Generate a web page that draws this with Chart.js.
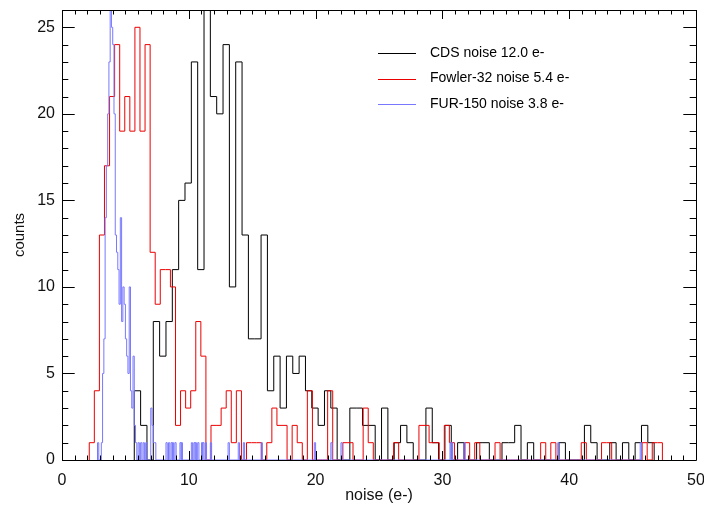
<!DOCTYPE html>
<html><head><meta charset="utf-8">
<script src="https://cdn.jsdelivr.net/npm/chart.js@4.4.1/dist/chart.umd.min.js"></script>
<style>html,body{margin:0;padding:0;background:#fff;}#wrap{width:704px;height:506px;position:relative;}</style>
</head><body><div id="wrap"><canvas id="c" width="704" height="506"></canvas></div>
<script>
// ---- data ----
const xTickLabels = [0, 10, 20, 30, 40, 50];
const yTickLabels = [0, 5, 10, 15, 20, 25];
const seriesNames = ['CDS noise 12.0 e-', 'Fowler-32 noise 5.4 e-', 'FUR-150 noise 3.8 e-'];

// CDS histogram: bins of 0.5 e- starting at 5.7
const cdsStart = 5.7, cdsBin = 0.5;
const cdsCounts = [4,2,0,8,6,8,11,15,16,23,11,26,21,20,24,10,23,13,7,7,13,4,6,3,6,5,6,4,3,2,4,3,0,0,3,3,2,2,0,3,0,1,2,1,0,0,3,1,0,2,0,1,0,0,1,1,0,0,1,1,2,0,1,0,0,0,0,1,0,0,0,2,1,0,0,1,0,1,0,1,2,1];

// Fowler-32 histogram: bins of 0.4 e- starting at 2.15
const fowlerStart = 2.15, fowlerBin = 0.4;
const fowlerCounts = [1,4,13,17,21,24,19,21,19,25,19,24,12,9,11,11,10,2,4,3,4,8,6,0,2,2,3,4,1,4,0,1,1,1,0,1,3,2,2,0,2,1,0,4,0,0,0,4,0,0,1,1,0,0,3,1,0,0,0,0,1,0,0,0,0,2,2,1,1,0,2,1,0,0,1,0,1,0,0,0,1,0,0,0,0,0,0,0,0,1,0,1,0,0,0,0,0,1,0,0,0,1,1,0,0,0,0,0,0,1,0,1,1];

// FUR-150 histogram: bins of 0.1 e-, dense core starting at 2.8, then sparse single bins
const furStart = 2.8, furBin = 0.1;
const furCoreCounts = [1,0,0,1,5,7,14,17,20,23,26,25,24,20,13,12,11,9,14,8,10,9,7,6,5,10,4,3,6,2,1,0,1,0,1,0,1,0,1,0,0,0,3,2,1,1];
const furTailBins = [8.2,8.4,8.6,8.7,8.9,9.3,9.4,10.2,10.4,10.5,10.7,11.0,11.1,11.3,11.7,13.1,13.9,14.3,15.7,19.9,21.2,22.0,30.6,30.7,31.7,39.1,45.6];
const furTailCounts = [1,1,1,1,1,1,1,1,1,1,1,1,1,1,1,1,1,1,1,1,1,1,1,1,1,1,1];

// ---- build step outlines ----
function histSteps(start, w, counts) {
  const pts = [{x: start, y: 0}];
  counts.forEach((c, i) => pts.push({x: +(start + i * w).toFixed(3), y: c}));
  pts.push({x: +(start + counts.length * w).toFixed(3), y: 0});
  return pts;
}
function sparseSteps(pts, bins, counts, w) {
  bins.forEach((b, i) => {
    pts.push({x: b, y: counts[i]});
    pts.push({x: +(b + w).toFixed(3), y: 0});
  });
  return pts;
}
const cdsPts = histSteps(cdsStart, cdsBin, cdsCounts);
const fowlerPts = histSteps(fowlerStart, fowlerBin, fowlerCounts);
const furPts = sparseSteps(histSteps(furStart, furBin, furCoreCounts), furTailBins, furTailCounts, furBin);

const colors = ['#000000', 'rgb(235,0,0)', 'rgb(120,120,255)'];

// frame, inward ticks and legend (IDL style)
const idlFrame = {
  id: 'idlFrame',
  afterDraw(chart) {
    const {ctx, chartArea: a, scales: {x, y}} = chart;
    ctx.save();
    ctx.strokeStyle = '#000';
    ctx.lineWidth = 1;
    ctx.beginPath();
    ctx.rect(Math.round(a.left) + 0.5, Math.round(a.top) + 0.5, Math.round(a.right - a.left), Math.round(a.bottom - a.top));
    ctx.stroke();
    ctx.beginPath();
    for (let v = 0; v <= 50; v++) {
      const px = Math.round(x.getPixelForValue(v)) + 0.5;
      const len = v % 10 === 0 ? 9 : 4.5;
      ctx.moveTo(px, a.bottom); ctx.lineTo(px, a.bottom - len);
      ctx.moveTo(px, a.top); ctx.lineTo(px, a.top + len);
    }
    for (let v = 0; v <= 26; v++) {
      const py = Math.round(y.getPixelForValue(v)) + 0.5;
      const len = v % 5 === 0 ? 12.7 : 6.3;
      ctx.moveTo(a.left, py); ctx.lineTo(a.left + len, py);
      ctx.moveTo(a.right, py); ctx.lineTo(a.right - len, py);
    }
    ctx.stroke();
    // legend
    ctx.font = '14px "Liberation Sans", Arial, sans-serif';
    ctx.textBaseline = 'middle';
    ctx.fillStyle = '#000';
    const ly = [53, 78.5, 104];
    seriesNames.forEach((name, i) => {
      ctx.strokeStyle = colors[i];
      ctx.beginPath();
      ctx.moveTo(378, Math.round(ly[i]) + 0.5);
      ctx.lineTo(416, Math.round(ly[i]) + 0.5);
      ctx.stroke();
      ctx.fillText(name, 430, ly[i]);
    });
    ctx.restore();
  }
};

const tickFont = {family: '"Liberation Sans", Arial, sans-serif', size: 16};

new Chart(document.getElementById('c'), {
  type: 'line',
  data: {
    datasets: [
      {label: seriesNames[0], data: cdsPts, borderColor: colors[0], order: 3},
      {label: seriesNames[1], data: fowlerPts, borderColor: colors[1], order: 2},
      {label: seriesNames[2], data: furPts, borderColor: colors[2], order: 1}
    ].map(d => Object.assign(d, {stepped: true, borderWidth: 1, pointRadius: 0, fill: false, tension: 0}))
  },
  options: {
    responsive: false,
    animation: false,
    events: [],
    layout: {padding: {top: 10, right: 8, left: 0, bottom: 0}},
    plugins: {legend: {display: false}, tooltip: {enabled: false}},
    scales: {
      x: {
        type: 'linear', min: 0, max: 50,
        afterFit(s) { s.height = 46; s.paddingLeft = 0; s.paddingRight = 0; },
        afterBuildTicks(s) { s.ticks = xTickLabels.map(v => ({value: v})); },
        grid: {display: false, drawTicks: false},
        border: {display: false},
        ticks: {font: tickFont, color: '#111', padding: 11, maxRotation: 0, autoSkip: false},
        title: {display: true, text: 'noise (e-)', font: {family: '"Liberation Sans", Arial, sans-serif', size: 16}, color: '#111', padding: {top: 0, bottom: 1}}
      },
      y: {
        type: 'linear', min: 0, max: 26,
        afterFit(s) { s.width = 62; s.paddingTop = 0; s.paddingBottom = 0; },
        afterBuildTicks(s) { s.ticks = yTickLabels.map(v => ({value: v})); },
        grid: {display: false, drawTicks: false},
        border: {display: false},
        ticks: {font: tickFont, color: '#111', padding: 7, autoSkip: false},
        title: {display: true, text: 'counts', font: {family: '"Liberation Sans", Arial, sans-serif', size: 15}, color: '#111', padding: {top: 11, bottom: 0}}
      }
    }
  },
  plugins: [idlFrame]
});
</script></body></html>
